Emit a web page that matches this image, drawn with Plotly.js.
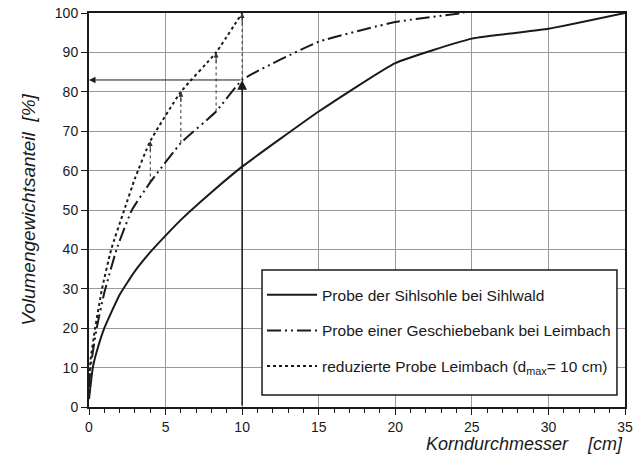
<!DOCTYPE html>
<html><head><meta charset="utf-8">
<script src="https://cdn.plot.ly/plotly-3.0.1.min.js"></script>
<style>html,body{margin:0;padding:0;background:#fff;}#chart{width:641px;height:466px;}</style>
</head><body><div id="chart"></div>
<script>
// Probe der Sihlsohle bei Sihlwald
const sihlX = [0, 0.25, 0.5, 1, 2, 3, 4, 5, 6, 8, 10, 15, 20, 25, 30, 35];
const sihlY = [2, 10, 14, 20, 28.5, 34.5, 39.3, 43.5, 47.5, 54.5, 61, 75, 87.3, 93.5, 96, 100];
// Probe einer Geschiebebank bei Leimbach
const leimX = [0, 0.1, 0.5, 1, 1.8, 2.8, 4, 6, 8.3, 10, 15, 20, 24.5];
const leimY = [5, 10, 20, 29, 40, 50, 57, 67, 75, 83, 92.7, 97.7, 100];
// reduzierte Probe Leimbach (dmax = 10 cm)
const reduX = [0, 0.1, 0.4, 0.85, 1.45, 2.3, 3, 4, 6, 8.3, 10];
const reduY = [6, 12, 20, 30, 40, 50, 58, 67.5, 80, 90, 100];
// positions of the thin conversion arrows and the dmax reading
const arrowX = [4, 6, 8.3, 10];
const dmax = 10;
const names = ["Probe der Sihlsohle bei Sihlwald",
               "Probe einer Geschiebebank bei Leimbach",
               "reduzierte Probe Leimbach (d<sub>max</sub>= 10 cm)"];
const xTicks = [0, 5, 10, 15, 20, 25, 30, 35];
const yTicks = [0, 10, 20, 30, 40, 50, 60, 70, 80, 90, 100];

const FONT = "'Liberation Sans', Arial, Helvetica, sans-serif";
const ink = "#1a1a1a";

const traces = [
  {x: sihlX, y: sihlY, name: names[0], mode: "lines", legendgroup: "a",
   line: {color: ink, width: 2, shape: "spline", smoothing: 0.4}},
  {x: leimX, y: leimY, name: names[1], mode: "lines", legendgroup: "b",
   line: {color: ink, width: 2, dash: "14px,4px,2px,4px,2px,4px", shape: "spline", smoothing: 0.4}},
  {x: reduX, y: reduY, name: names[2], mode: "lines", legendgroup: "c",
   line: {color: ink, width: 2, dash: "dot", shape: "spline", smoothing: 0.4}}
];

const shapes = [
  // legend frame
  {type: "rect", xref: "paper", yref: "paper", x0: 0.3228, x1: 0.985, y0: 0.0305, y1: 0.3477,
   layer: "above", fillcolor: "#fff", line: {color: ink, width: 1.5}}
];
const annotations = [];
function lookup(xs, ys, v){ return ys[xs.indexOf(v)]; }
arrowX.forEach(v => {
  const y0 = lookup(leimX, leimY, v), y1 = lookup(reduX, reduY, v);
  shapes.push({type: "line", xref: "x", yref: "y", x0: v, x1: v, y0: y0, y1: y1,
               line: {color: "#333", width: 1, dash: "dot"}});
  annotations.push({x: v, y: y1, ax: v, ay: y1 - 3, xref: "x", yref: "y", axref: "x", ayref: "y",
                    text: "", showarrow: true, arrowhead: 2, arrowsize: 1, arrowwidth: 1, arrowcolor: "#333"});
});
const yAtDmax = lookup(leimX, leimY, dmax);
annotations.push({x: dmax, y: yAtDmax, ax: dmax, ay: 0, xref: "x", yref: "y", axref: "x", ayref: "y",
                  text: "", showarrow: true, arrowhead: 2, arrowsize: 1.3, arrowwidth: 1.5, arrowcolor: ink});
annotations.push({x: 0, y: yAtDmax, ax: dmax, ay: yAtDmax, xref: "x", yref: "y", axref: "x", ayref: "y",
                  text: "", showarrow: true, arrowhead: 2, arrowsize: 1.3, arrowwidth: 1, arrowcolor: ink});
annotations.push({text: "Korndurchmesser&nbsp;&nbsp;&nbsp;&nbsp;[cm]", xref: "paper", yref: "paper",
                  x: 1.0, y: -0.063, xanchor: "right", yanchor: "top", showarrow: false,
                  font: {family: FONT, size: 18, color: ink, style: "italic"}});

const layout = {
  width: 641, height: 466,
  margin: {l: 89, r: 16, t: 13, b: 59},
  paper_bgcolor: "#fff", plot_bgcolor: "#fff",
  font: {family: FONT, size: 14, color: ink},
  showlegend: true,
  legend: {x: 0.3228, y: 0.327, xanchor: "left", yanchor: "top",
           bgcolor: "rgba(0,0,0,0)", borderwidth: 0, itemwidth: 50,
           font: {family: FONT, size: 15.5, color: ink},
           traceorder: "grouped", tracegroupgap: 12.5},
  xaxis: {range: [0, 35], tickvals: xTicks, ticks: "outside", ticklen: 6, tickcolor: ink,
          showgrid: true, gridcolor: "#9a9a9a", gridwidth: 1,
          showline: true, linecolor: ink, linewidth: 2, mirror: true, zeroline: false,
          minor: {dtick: 1, ticks: "outside", ticklen: 4, tickcolor: ink, showgrid: false},
          tickfont: {family: FONT, size: 14, color: ink}},
  yaxis: {range: [0, 100], tickvals: yTicks, ticks: "outside", ticklen: 6, tickcolor: ink,
          showgrid: true, gridcolor: "#9a9a9a", gridwidth: 1,
          showline: true, linecolor: ink, linewidth: 2, mirror: true, zeroline: false,
          tickfont: {family: FONT, size: 14, color: ink},
          title: {text: "Volumengewichtsanteil&nbsp;&nbsp;[%]", standoff: 14,
                  font: {family: FONT, size: 19, color: ink, style: "italic"}}},
  shapes: shapes,
  annotations: annotations
};
Plotly.newPlot("chart", traces, layout, {displayModeBar: false, staticPlot: true});
</script></body></html>
